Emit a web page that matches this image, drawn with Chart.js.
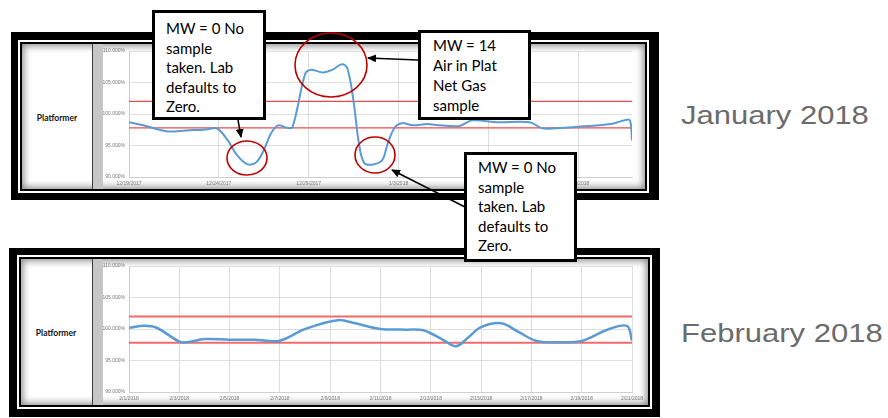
<!DOCTYPE html>
<html>
<head>
<meta charset="utf-8">
<script src="https://cdn.jsdelivr.net/npm/chart.js@4.4.0/dist/chart.umd.min.js"></script>
<style>
body{margin:0;width:888px;height:418px;background:#fff;position:relative;overflow:hidden;font-family:"Liberation Sans",Arial,sans-serif;}
.abs{position:absolute;}
.blk{background:#000;}
.wht{background:#fff;}
.inner{background:#fff;box-shadow:inset 0 0 7px 2px rgba(0,0,0,0.45);}
.sep{background:#c6c6c6;border-left:1px solid #3a3a3a;}
.unit{font-family:Lato,"Open Sans",sans-serif;font-weight:bold;font-size:8.5px;color:#111;width:70px;text-align:center;}
.month{font-size:31px;color:#6b6b6b;transform-origin:0 0;transform:scaleY(0.81);line-height:31px;white-space:nowrap;}
.note{background:#fff;border:3px solid #000;box-sizing:border-box;font-family:Lato,sans-serif;font-size:15px;line-height:19.5px;color:#000;white-space:nowrap;}
</style>
</head>
<body>

<!-- panel enero -->
<div class="abs blk" style="left:11px;top:32px;width:648px;height:168px"></div>
<div class="abs wht" style="left:18px;top:40px;width:631px;height:153px"></div>
<div class="abs blk" style="left:20px;top:42px;width:627px;height:149px"></div>
<div class="abs inner" style="left:22px;top:44px;width:623px;height:145px"></div>
<div class="abs sep" style="left:92px;top:44px;width:10px;height:145px"></div>
<div class="abs unit" style="left:22px;top:113px">Platformer</div>
<canvas id="chartJan" class="abs" style="left:103px;top:44px" width="542" height="145"></canvas>

<!-- panel febrero -->
<div class="abs blk" style="left:9px;top:248px;width:651px;height:169px"></div>
<div class="abs wht" style="left:17px;top:255px;width:635px;height:154px"></div>
<div class="abs blk" style="left:19px;top:257px;width:631px;height:150px"></div>
<div class="abs inner" style="left:21px;top:259px;width:627px;height:146px"></div>
<div class="abs sep" style="left:92px;top:259px;width:10px;height:146px"></div>
<div class="abs unit" style="left:21px;top:328px">Platformer</div>
<canvas id="chartFeb" class="abs" style="left:103px;top:259px" width="545" height="146"></canvas>

<div class="abs month" style="left:681px;top:103px">January 2018</div>
<div class="abs month" style="left:681px;top:321px">February 2018</div>

<svg class="abs" style="left:0;top:0" width="888" height="418">
  <defs>
    <marker id="ah" markerWidth="9" markerHeight="8" refX="8" refY="4" orient="auto" markerUnits="userSpaceOnUse">
      <path d="M0,0 L9,4 L0,8 z" fill="#000"/>
    </marker>
  </defs>
  <ellipse cx="247" cy="158" rx="20" ry="17" fill="none" stroke="#c00000" stroke-width="1.6"/>
  <ellipse cx="331" cy="65" rx="36" ry="32" fill="none" stroke="#c00000" stroke-width="1.6"/>
  <ellipse cx="375" cy="155" rx="20" ry="18" fill="none" stroke="#c00000" stroke-width="1.6"/>
  <line x1="238" y1="120" x2="241" y2="137" stroke="#000" stroke-width="1.5" marker-end="url(#ah)"/>
  <line x1="418" y1="60" x2="368" y2="58" stroke="#000" stroke-width="1.5" marker-end="url(#ah)"/>
  <line x1="465" y1="207" x2="392" y2="170" stroke="#000" stroke-width="1.5" marker-end="url(#ah)"/>
</svg>

<div class="abs note" style="left:152px;top:10px;width:114px;height:110px;padding:6px 0 0 11px">MW = 0 No<br>sample<br>taken. Lab<br>defaults to<br>Zero.</div>
<div class="abs note" style="left:418px;top:30px;width:113px;height:90px;padding:2px 0 0 12px;line-height:20px">MW = 14<br>Air in Plat<br>Net Gas<br>sample</div>
<div class="abs note" style="left:464px;top:152px;width:113px;height:110px;padding:3px 0 0 11px">MW = 0 No<br>sample<br>taken. Lab<br>defaults to<br>Zero.</div>

<script>
// Platformer - enero / febrero 2018

const janTickLabels = ['12/19/2017', '12/24/2017', '12/29/2017', '1/3/2018', '1/8/2018', '1/13/2018'];
const janLastDay = 28;
const janDay = [0, 0.8, 2.1, 3.2, 4.3, 4.9, 5.5, 6.0, 6.6, 7.1, 7.5, 7.9, 8.3, 8.8, 9.1, 9.8, 10.1, 10.8, 11.3, 11.85, 12.15, 12.5, 12.8, 13.1, 13.6, 14.1, 14.4, 14.8, 15.2, 15.8, 16.6, 17.3, 18.4, 19.1, 20.5, 22.3, 23.0, 23.8, 25.1, 26.9, 27.7, 27.9, 28];
const janValue = [98.7, 98.2, 97.25, 97.4, 97.55, 97.7, 95.8, 93.5, 92.0, 92.4, 94.25, 96.9, 98.2, 97.8, 97.9, 106.3, 107.0, 106.6, 107.0, 107.9, 107.3, 102.0, 95.3, 92.2, 92.0, 92.7, 95.3, 97.9, 98.55, 98.2, 98.4, 98.2, 98.1, 99.0, 98.7, 98.7, 97.75, 97.75, 98.0, 98.45, 99.1, 98.9, 95.8];

const febTickLabels = ['2/1/2018', '2/3/2018', '2/5/2018', '2/7/2018', '2/9/2018', '2/11/2018', '2/13/2018', '2/15/2018', '2/17/2018', '2/19/2018', '2/21/2018'];
const febLastDay = 20;
const febDay = [0, 0.6, 1.1, 2.0, 2.3, 3.0, 4.0, 5.0, 6.0, 7.0, 8.3, 9.0, 10.0, 11.0, 11.7, 12.5, 13.0, 13.5, 14.0, 14.8, 15.5, 16.2, 17.0, 18.0, 19.0, 19.8, 20.0];
const febValue = [100.2, 100.5, 100.2, 98.0, 97.9, 98.4, 98.3, 98.3, 98.15, 100.0, 101.4, 100.9, 100.0, 99.9, 99.8, 98.25, 97.25, 98.7, 100.3, 100.9, 99.5, 98.1, 97.9, 98.1, 99.85, 100.5, 98.15];

const upperLimit = 102;
const lowerLimit = 97.8;

function toPoints(days, values){
  return days.map((d, i) => ({x: d, y: values[i]}));
}

function drawPanel(id, days, values, tickLabels, step, lastDay, st){
  var ctx = document.getElementById(id).getContext('2d');
  return new Chart(ctx, {
    type: 'line',
    data: {
      datasets: [
        {data: toPoints(days, values), borderColor: '#5b9bd5', borderWidth: st.blueWidth, pointRadius: 0, tension: 0.35},
        {data: [{x: 0, y: upperLimit}, {x: lastDay, y: upperLimit}], borderColor: st.red, borderWidth: st.redWidth, pointRadius: 0},
        {data: [{x: 0, y: lowerLimit}, {x: lastDay, y: lowerLimit}], borderColor: st.red, borderWidth: st.redWidth, pointRadius: 0}
      ]
    },
    options: {
      responsive: false,
      animation: false,
      events: [],
      layout: {padding: {top: 6, right: st.right, left: 0, bottom: 0}},
      plugins: {legend: {display: false}, tooltip: {enabled: false}},
      scales: {
        x: {
          type: 'linear', min: 0, max: lastDay,
          afterFit: s => { s.height = st.bottom; },
          ticks: {stepSize: step, includeBounds: false, autoSkip: false, maxRotation: 0, padding: 4,
                  font: {size: 5, family: 'Liberation Sans'}, color: '#777',
                  callback: (v, i) => tickLabels[i]},
          grid: {color: '#dedede', drawTicks: false},
          border: {color: '#cfcfcf'}
        },
        y: {
          min: 90, max: 110,
          afterFit: s => { s.width = 26; },
          ticks: {stepSize: 5, padding: 4, font: {size: 5, family: 'Liberation Sans'}, color: '#777',
                  callback: v => v.toFixed(3) + '%'},
          grid: {color: '#dedede', drawTicks: false},
          border: {color: '#cfcfcf'}
        }
      }
    }
  });
}

drawPanel('chartJan', janDay, janValue, janTickLabels, 5, janLastDay, {blueWidth: 2, red: '#e84a4a', redWidth: 1.3, right: 13, bottom: 12});
drawPanel('chartFeb', febDay, febValue, febTickLabels, 2, febLastDay, {blueWidth: 2.5, red: '#f26b6b', redWidth: 2, right: 16, bottom: 13});
</script>
</body>
</html>
